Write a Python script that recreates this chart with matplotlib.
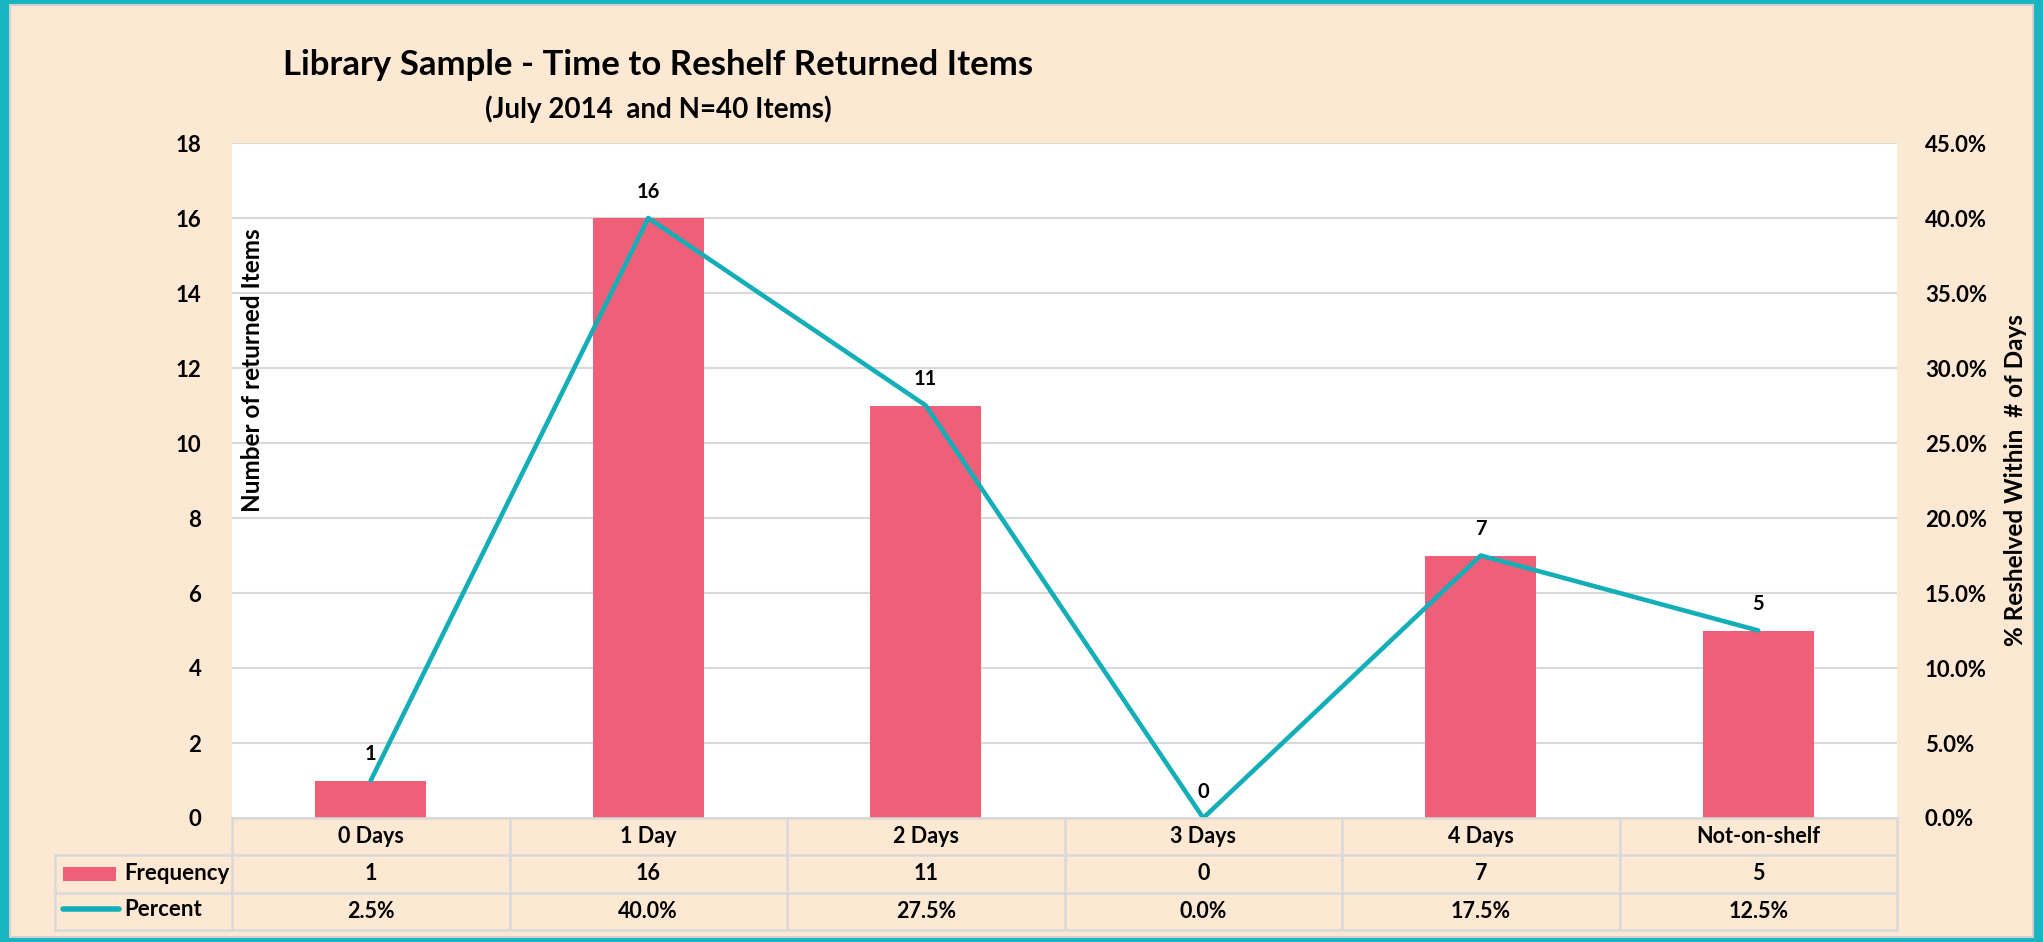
import matplotlib
matplotlib.use("Agg")
import matplotlib.pyplot as plt
from matplotlib.patches import Rectangle
from matplotlib.ticker import FuncFormatter, MultipleLocator

categories = ["0 Days", "1 Day", "2 Days", "3 Days", "4 Days", "Not-on-shelf"]
frequency = [1, 16, 11, 0, 7, 5]
percent = [2.5, 40.0, 27.5, 0.0, 17.5, 12.5]

TEAL_BG = "#18b4bf"
PEACH = "#fde9d3"
BAR = "#f05f78"
LINE = "#13aeb8"
GRID = "#d9d9d9"

plt.rcParams.update({"font.family": ["Lato", "DejaVu Sans"], "font.weight": "bold"})

W, H = 2043, 942
fig = plt.figure(figsize=(W / 100, H / 100), dpi=100, facecolor=TEAL_BG)


def box(x0, y0, x1, y1):
    # pixel box (top-left origin) -> figure fraction rect
    return [x0 / W, 1 - y1 / H, (x1 - x0) / W, (y1 - y0) / H]


# peach panel
fig.patches.append(Rectangle((10 / W, 1 - 937 / H), 2023 / W, 932 / H, transform=fig.transFigure,
                             facecolor=PEACH, edgecolor="#d0d0d0", lw=1.5, zorder=-5))

ax = fig.add_axes(box(232, 143, 1897, 818))
ax.set_facecolor("white")
x = range(len(categories))
ax.bar(x, frequency, width=0.40, color=BAR, zorder=2)
ax.set_xlim(-0.5, len(categories) - 0.5)
ax.set_ylim(0, 18)
ax.yaxis.set_major_locator(MultipleLocator(2))
ax.grid(axis="y", color=GRID, lw=1.5, zorder=0)
ax.set_axisbelow(True)
ax.set_xticks([])
for s in ax.spines.values():
    s.set_visible(False)
ax.tick_params(axis="y", length=0, pad=22, labelsize=16)
for lab in ax.get_yticklabels():
    lab.set_fontweight("bold")
for xi, v in zip(x, frequency):
    ax.annotate(str(v), (xi, v), xytext=(0, 19), textcoords="offset points",
                ha="center", va="center", fontsize=14.5, fontweight="bold", zorder=5)

ax2 = ax.twinx()
ax2.plot(list(x), percent, color=LINE, lw=3.3, solid_capstyle="round", zorder=4)
ax2.set_ylim(0, 45)
ax2.yaxis.set_major_locator(MultipleLocator(5))
ax2.yaxis.set_major_formatter(FuncFormatter(lambda v, p: f"{v:.1f}%"))
for s in ax2.spines.values():
    s.set_visible(False)
ax2.tick_params(axis="y", length=0, pad=20, labelsize=16)
for lab in ax2.get_yticklabels():
    lab.set_fontweight("bold")
ax2.set_ylabel("% Reshelved Within  # of Days", fontsize=17.5, fontweight="bold", labelpad=12)

fig.text(252 / W, 1 - 370 / H, "Number of returned Items", rotation=90, ha="center", va="center",
         fontsize=17.5, fontweight="bold")

fig.text(658 / W, 1 - 65 / H, "Library Sample - Time to Reshelf Returned Items", ha="center",
         va="center", fontsize=25, fontweight="bold")
fig.text(658 / W, 1 - 109 / H, "(July 2014  and N=40 Items)", ha="center", va="center",
         fontsize=20, fontweight="bold")

# ---- data table under the plot ----------------------------------------------
n = len(categories)
legw = (232 - 55) / ((1897 - 232) / n)
tb = fig.add_axes(box(55, 818, 1897, 930))
tb.set_xlim(-0.5 - legw, n - 0.5)
tb.set_ylim(3, 0)
tb.axis("off")
tb.patch.set_visible(False)
lk = dict(color=GRID, lw=1.8, clip_on=False)
tb.plot([-0.5, n - 0.5], [0, 0], **lk)
for r in (1, 2, 3):
    tb.plot([-0.5 - legw, n - 0.5], [r, r], **lk)
tb.plot([-0.5 - legw] * 2, [1, 3], **lk)
for i in range(n + 1):
    tb.plot([i - 0.5] * 2, [0, 3], **lk)
tk = dict(ha="center", va="center", fontsize=15.5, fontweight="bold")
for i, c in enumerate(categories):
    tb.text(i, 0.5, c, **tk)
    tb.text(i, 1.5, str(frequency[i]), **tk)
    tb.text(i, 2.5, f"{percent[i]:.1f}%", **tk)
lx0 = -0.5 - legw + 0.03
tb.add_patch(Rectangle((lx0, 1.3), 0.19, 0.4, facecolor=BAR, clip_on=False))
tb.plot([lx0 + 0.0, lx0 + 0.2], [2.45, 2.45], color=LINE, lw=4, solid_capstyle="round", clip_on=False)
tb.text(lx0 + 0.22, 1.5, "Frequency", ha="left", va="center", fontsize=16, fontweight="bold")
tb.text(lx0 + 0.22, 2.45, "Percent", ha="left", va="center", fontsize=16, fontweight="bold")

fig.savefig("out.png", dpi=100, facecolor=fig.get_facecolor())
